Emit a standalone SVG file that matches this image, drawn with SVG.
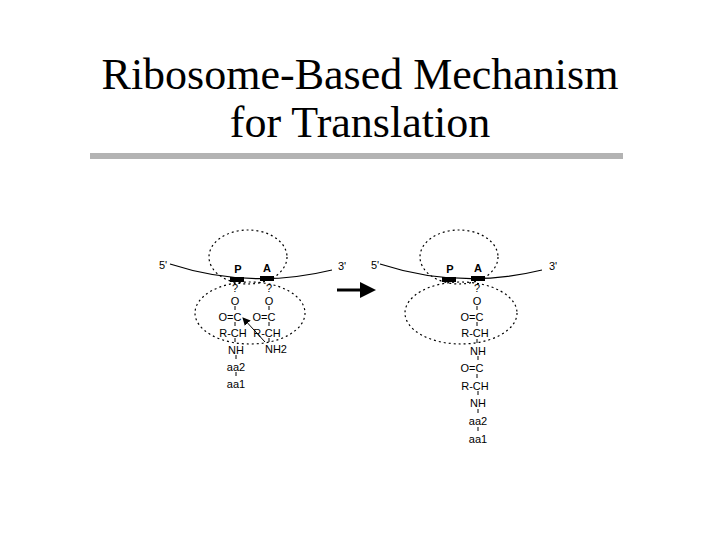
<svg xmlns="http://www.w3.org/2000/svg" width="720" height="540" viewBox="0 0 720 540">
<style>
.t{font-family:"Liberation Sans",Arial,sans-serif;font-size:11px;text-anchor:middle;fill:#000}
.ti{font-family:"Liberation Serif","Times New Roman",serif;font-size:44px;text-anchor:middle;fill:#000}
.dot{fill:none;stroke:#000;stroke-width:1.2;stroke-dasharray:2 3}
.m{fill:none;stroke:#000;stroke-width:1.2}
.b{stroke:#000;stroke-width:1}
</style>
<defs><marker id="ah" markerWidth="8" markerHeight="8" refX="7" refY="4" orient="auto" markerUnits="userSpaceOnUse"><path d="M0,0L8,4L0,8z"/></marker></defs>
<rect width="720" height="540" fill="#fff"/>
<g id="title"><text class="ti" x="360" y="89">Ribosome-Based Mechanism</text><text class="ti" x="360" y="137">for Translation</text>
<rect x="90" y="153" width="533" height="6" fill="#b3b3b3"/></g>
<g id="left">
<ellipse class="dot" cx="248" cy="257" rx="39" ry="27"/>
<ellipse class="dot" cx="250" cy="313" rx="55" ry="31"/>
<path class="m" d="M170,264 Q250,290 332,270"/>
<rect x="230" y="277" width="14" height="5"/><rect x="260" y="276" width="14" height="5"/>
<text class="t" x="163" y="269">5'</text><text class="t" x="342" y="270">3'</text>
<text class="t" x="238" y="273" font-weight="bold">P</text><text class="t" x="267" y="272" font-weight="bold">A</text>
<text class="t" x="235" y="292">?</text><text class="t" x="235" y="305">O</text><text class="t" x="230" y="321">O=C</text><text class="t" x="233" y="337">R-CH</text><text class="t" x="236" y="354">NH</text><text class="t" x="236" y="371">aa2</text><text class="t" x="236" y="388">aa1</text>
<text class="t" x="269" y="292">?</text><text class="t" x="269" y="305">O</text><text class="t" x="264" y="321">O=C</text><text class="t" x="267" y="337">R-CH</text><text class="t" x="276" y="353">NH2</text>
<path class="b" d="M235,306v4M235,322v4M235,338v4M236,355v4M236,372v4M269,306v4M269,322v4M269,338v4"/>
<line class="b" x1="265" y1="342" x2="243" y2="318" marker-end="url(#ah)"/>
</g>
<g id="connectors"><line x1="337" y1="290" x2="364" y2="290" stroke="#000" stroke-width="3"/><path d="M360,282L376,290L360,298z"/></g>
<g id="right">
<ellipse class="dot" cx="459" cy="257" rx="39" ry="27"/>
<ellipse class="dot" cx="461" cy="313" rx="56" ry="31"/>
<path class="m" d="M380,264 Q460,290 542,270"/>
<rect x="442" y="277" width="14" height="5"/><rect x="471" y="276" width="14" height="5"/>
<text class="t" x="375" y="269">5'</text><text class="t" x="553" y="270">3'</text>
<text class="t" x="450" y="273" font-weight="bold">P</text><text class="t" x="478" y="272" font-weight="bold">A</text>
<text class="t" x="477" y="292">?</text><text class="t" x="477" y="305">O</text><text class="t" x="472" y="321">O=C</text><text class="t" x="475" y="337">R-CH</text><text class="t" x="478" y="355">NH</text><text class="t" x="472" y="372">O=C</text><text class="t" x="475" y="390">R-CH</text><text class="t" x="478" y="407">NH</text><text class="t" x="478" y="425">aa2</text><text class="t" x="478" y="443">aa1</text>
<path class="b" d="M477,306v4M477,322v4M477,339v4M478,356v4M477,374v4M478,391v4M478,409v4M478,427v4"/>
</g>
</svg>
